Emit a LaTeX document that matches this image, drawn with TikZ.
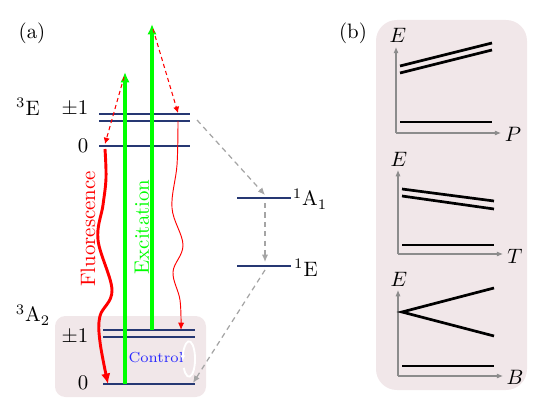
\documentclass[tikz,border=0pt]{standalone}
\usetikzlibrary{arrows.meta}
\definecolor{lev}{RGB}{38,56,115}
\definecolor{bgpink}{RGB}{241,231,233}
\definecolor{dgray}{RGB}{165,165,165}
\definecolor{agray}{RGB}{140,140,140}
\definecolor{grn}{RGB}{0,255,0}
\definecolor{ctrlblue}{RGB}{40,40,255}
\begin{document}
\begin{tikzpicture}[x=0.48pt,y=-0.48pt,
  level/.style={lev, line width=1.4pt},
  pumparrow/.style={grn, line width=1.6pt, -{Latex[length=5pt,width=4.5pt]}},
  relax/.style={red, dash pattern=on 2pt off 1.5pt, line width=0.5pt, -{Latex[length=3pt,width=3pt]}},
  isc/.style={dgray, dash pattern=on 2.5pt off 2pt, line width=0.6pt, -{Latex[length=3.5pt,width=3pt]}},
  fluor/.style={red, line width=1.4pt, -{Latex[length=5pt,width=4.5pt]}},
  thinfl/.style={red, line width=0.45pt, -{Latex[length=3.5pt,width=3pt]}},
  panelbg/.style={fill=bgpink, draw=none},
  axisline/.style={agray, line width=0.5pt, -{Latex[length=3pt,width=2.5pt]}},
  curve/.style={black, line width=1.3pt},
  lbl/.style={inner sep=0pt}
]
\useasboundingbox (0,0) rectangle (545,411);

% ---------- backgrounds ----------
\fill[panelbg, rounded corners=5pt] (55,316) rectangle (206,397);
\fill[panelbg, rounded corners=10pt] (376,20) rectangle (527,390);

% ---------- panel labels ----------
\node[lbl] (pa) at (32,33) {(a)};
\node[lbl] (pb) at (353,33) {(b)};

% ---------- levels (a) ----------
\coordinate (EpaL) at (99,114);  \coordinate (EpaR) at (190,114);
\coordinate (EpbL) at (99,121);  \coordinate (EpbR) at (190,121);
\coordinate (EzL)  at (99,146);  \coordinate (EzR)  at (190,146);
\coordinate (ApaL) at (103,330); \coordinate (ApaR) at (195,330);
\coordinate (ApbL) at (103,337); \coordinate (ApbR) at (195,337);
\coordinate (AzL)  at (103,384); \coordinate (AzR)  at (195,384);
\coordinate (SaL)  at (237,198); \coordinate (SaR)  at (291,198);
\coordinate (SeL)  at (237,266); \coordinate (SeR)  at (291,266);

\draw[level] (EpaL) -- (EpaR);
\draw[level] (EpbL) -- (EpbR);
\draw[level] (EzL) -- (EzR);
\draw[level] (ApaL) -- (ApaR);
\draw[level] (ApbL) -- (ApbR);
\draw[level] (AzL) -- (AzR);
\draw[level] (SaL) -- (SaR);
\draw[level] (SeL) -- (SeR);

% level labels
\node[lbl] (t3E)  at (28,107) {$^3$E};
\node[lbl] (tEpm) at (75,109) {$\pm1$};
\node[lbl] (tEz)  at (83,146) {0};
\node[lbl] (t3A)  at (33,315) {$^3$A$_2$};
\node[lbl] (tApm) at (75,337) {$\pm1$};
\node[lbl] (tAz)  at (83,383) {0};
\node[lbl] (t1A)  at (310,199) {$^1$A$_1$};
\node[lbl] (t1E)  at (306,268) {$^1$E};

% ---------- excitation ----------
\coordinate (g1s) at (125,384); \coordinate (g1e) at (125,72);
\coordinate (g2s) at (152,330); \coordinate (g2e) at (152,24);
\draw[pumparrow] (g1s) -- (g1e);
\draw[pumparrow] (g2s) -- (g2e);

% ---------- phonon relaxation (dashed red) ----------
\coordinate (r1s) at (124,77);  \coordinate (r1e) at (105,144);
\coordinate (r2s) at (153,29);  \coordinate (r2e) at (178,113);
\draw[relax] (r1s) -- (r1e);
\draw[relax] (r2s) -- (r2e);

% ---------- fluorescence (wavy) ----------
\draw[fluor] plot[smooth, tension=0.6] coordinates
  {(105,149) (106,178) (103,205) (98,240) (112,290) (100,316) (100,342) (108,384)};
\draw[thinfl] plot[smooth, tension=0.6] coordinates
  {(178,121) (177,165) (172,208) (183,245) (173,272) (180,300) (181,330)};

\node[lbl, red, rotate=90] (tFl) at (88,229) {Fluorescence};
\node[lbl, grn, rotate=90] (tEx) at (142,227) {Excitation};

% ---------- intersystem crossing (dashed grey) ----------
\coordinate (i1s) at (197,120); \coordinate (i1e) at (265,195);
\coordinate (i2s) at (265,203); \coordinate (i2e) at (265,262);
\coordinate (i3s) at (265,270); \coordinate (i3e) at (193,383);
\draw[isc] (i1s) -- (i1e);
\draw[isc] (i2s) -- (i2e);
\draw[isc] (i3s) -- (i3e);

% ---------- control ----------
\node[lbl, ctrlblue, font=\scriptsize] (tCt) at (156,358) {Control};
\coordinate (cc) at (189,359);
\draw[white, line width=0.9pt, -{Latex[length=2.5pt,width=2.5pt]}]
  ([shift={(-150:2.9pt and 8.5pt)}]cc) arc[start angle=-150, end angle=185, x radius=2.9pt, y radius=8.5pt];

% ---------- panel (b) ----------
% subplot P
\coordinate (o1) at (396,133); \coordinate (y1) at (396,47); \coordinate (x1) at (501,133);
\draw[axisline] (o1) -- (y1);
\draw[axisline] (o1) -- (x1);
\node[lbl] (tE1) at (398,35) {$E$};
\node[lbl] (tP) at (513,134) {$P$};
\coordinate (a1) at (400,66); \coordinate (b1) at (492,43);
\coordinate (a2) at (400,73); \coordinate (b2) at (492,50);
\coordinate (a3) at (400,122); \coordinate (b3) at (492,122);
\draw[curve] (a1) -- (b1);
\draw[curve] (a2) -- (b2);
\draw[curve] (a3) -- (b3);

% subplot T
\coordinate (o2) at (398,254); \coordinate (y2) at (398,170); \coordinate (x2) at (503,254);
\draw[axisline] (o2) -- (y2);
\draw[axisline] (o2) -- (x2);
\node[lbl] (tE2) at (399,159) {$E$};
\node[lbl] (tT) at (515,256) {$T$};
\coordinate (c1) at (402,189); \coordinate (d1) at (494,201);
\coordinate (c2) at (402,196); \coordinate (d2) at (494,209);
\coordinate (c3) at (402,245); \coordinate (d3) at (494,245);
\draw[curve] (c1) -- (d1);
\draw[curve] (c2) -- (d2);
\draw[curve] (c3) -- (d3);

% subplot B
\coordinate (o3) at (398,376); \coordinate (y3) at (398,290); \coordinate (x3) at (503,376);
\draw[axisline] (o3) -- (y3);
\draw[axisline] (o3) -- (x3);
\node[lbl] (tE3) at (399,279) {$E$};
\node[lbl] (tB) at (515,377) {$B$};
\coordinate (e0) at (402,312); \coordinate (f1) at (494,288); \coordinate (f2) at (494,336);
\coordinate (e3) at (402,366); \coordinate (f3) at (494,366);
\draw[curve] (f1) -- (e0) -- (f2);
\draw[curve] (e3) -- (f3);
\end{tikzpicture}
\end{document}
